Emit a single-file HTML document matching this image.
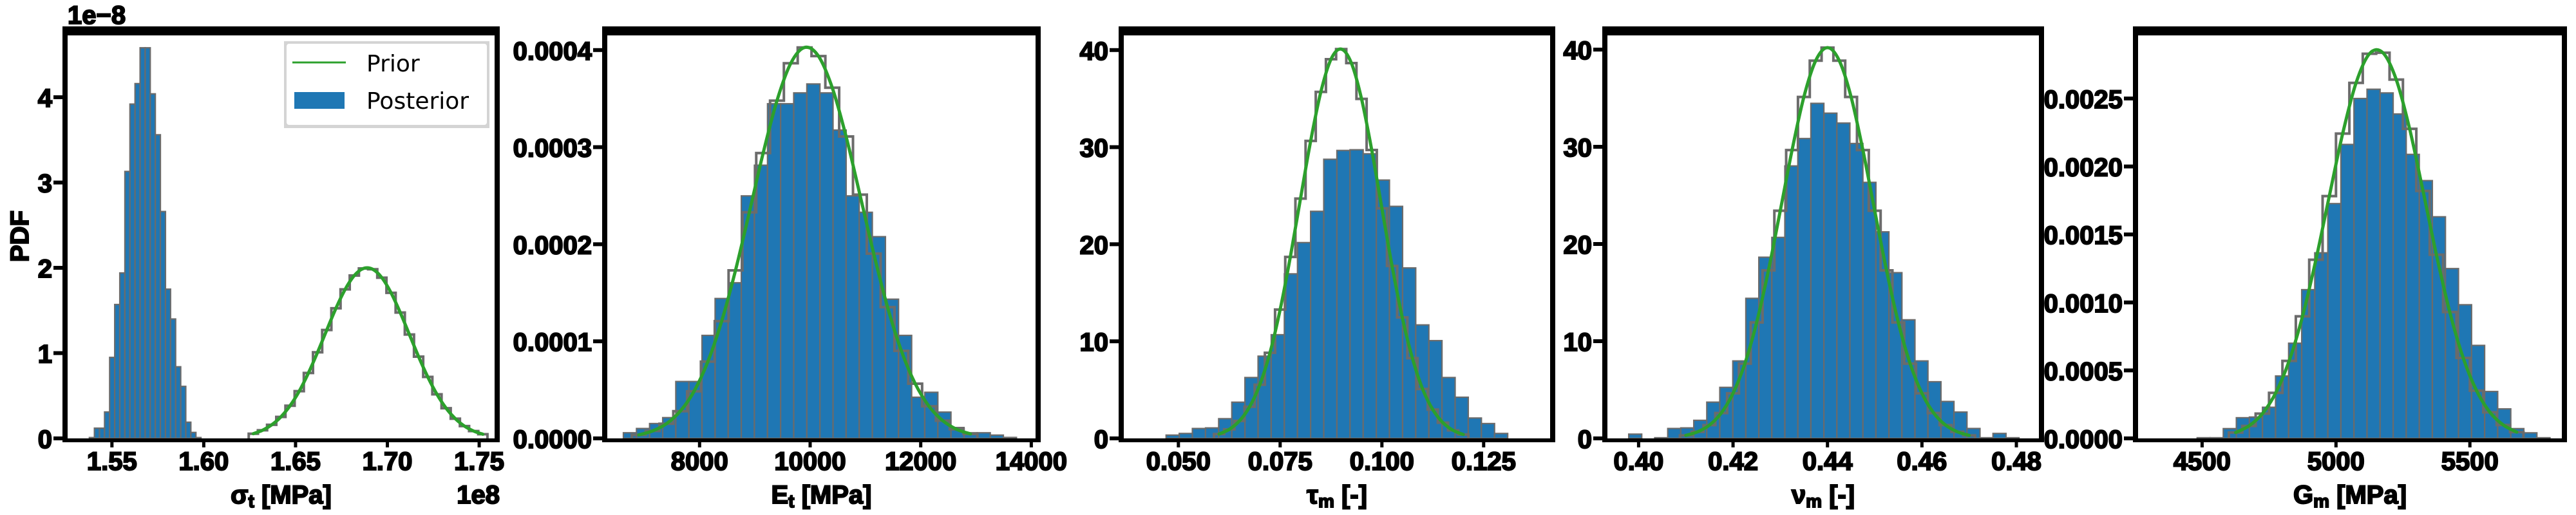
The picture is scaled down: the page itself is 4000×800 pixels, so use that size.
<!DOCTYPE html>
<html><head><meta charset="utf-8"><style>
html,body{margin:0;padding:0;background:#fff;}
svg{display:block;}
text{font-family:"Liberation Sans",sans-serif;}
</style></head><body>
<svg id="fig" width="4000" height="800" viewBox="0 0 4000 800" xmlns="http://www.w3.org/2000/svg"></svg>
<script>
// ---------- Panel 1 data (sigma, scaled 1e8 / 1e-8) ----------
const p1PostStart = 1.5377;
const p1PostWidth = 0.002764;
const p1PostHeights = [0.01,0.12,0.12,0.31,0.95,1.57,1.94,3.13,3.92,4.16,4.58,4.58,4.04,3.56,2.66,1.75,1.40,0.84,0.61,0.19,0.07,0.01];
const p1PriorX = [1.627,1.632,1.637,1.642,1.647,1.652,1.657,1.662,1.667,1.672,1.677,1.682,1.687,1.692,1.697,1.702,1.707,1.712,1.717,1.722,1.727,1.732,1.737,1.742,1.747,1.752];
const p1PriorY = [0.055,0.095,0.159,0.252,0.383,0.554,0.767,1.010,1.271,1.526,1.747,1.910,1.993,1.983,1.884,1.707,1.476,1.218,0.959,0.721,0.517,0.354,0.231,0.144,0.086,0.049];
const p1XTicks = [1.55,1.60,1.65,1.70,1.75];
const p1XTickLabels = ["1.55","1.60","1.65","1.70","1.75"];
const p1YTicks = [0,1,2,3,4];
const p1YTickLabels = ["0","1","2","3","4"];

// ---------- Panel 2 data (y in 1e-4) ----------
const p2PostStart = 6622;
const p2PostWidth = 237;
const p2PostHeights = [0.058,0.102,0.153,0.214,0.586,0.586,1.061,1.441,1.603,2.498,2.814,3.447,3.447,3.559,3.651,3.559,3.176,2.498,2.329,2.078,1.434,1.061,0.424,0.475,0.271,0.112,0.058,0.058,0.034,0.01];
const p2PriorX = [6900,7150,7400,7650,7900,8150,8400,8650,8900,9150,9400,9650,9900,10150,10400,10650,10900,11150,11400,11650,11900,12150,12400,12650,12900];
const p2PriorY = [0.036,0.077,0.151,0.280,0.485,0.791,1.208,1.731,2.329,2.939,3.479,3.864,4.027,3.938,3.612,3.110,2.511,1.903,1.352,0.902,0.564,0.331,0.182,0.094,0.046];
const p2XTicks = [8000,10000,12000,14000];
const p2XTickLabels = ["8000","10000","12000","14000"];
const p2YTicks = [0,1,2,3,4];
const p2YTickLabels = ["0.0000","0.0001","0.0002","0.0003","0.0004"];

// ---------- Panel 3 data ----------
const p3PostStart = 0.04698;
const p3PostWidth = 0.003228;
const p3PostHeights = [0.34,0.51,1.02,1.08,2.03,3.73,6.27,8.47,10.68,16.95,20.17,23.39,28.75,29.66,29.73,29.32,26.61,23.90,17.56,11.69,10.07,6.27,4.24,2.10,1.53,0.51];
const p3PriorX = [0.060,0.0625,0.065,0.0675,0.070,0.0725,0.075,0.0775,0.080,0.0825,0.085,0.0875,0.090,0.0925,0.095,0.0975,0.100,0.1025,0.105,0.1075,0.110,0.1125,0.115,0.1175,0.120];
const p3PriorY = [0.45,0.93,1.80,3.26,5.53,8.82,13.27,18.69,24.70,30.64,35.69,39.06,40.10,38.66,34.97,29.71,23.70,17.76,12.47,8.26,5.09,2.97,1.62,0.83,0.40];
const p3XTicks = [0.050,0.075,0.100,0.125];
const p3XTickLabels = ["0.050","0.075","0.100","0.125"];
const p3YTicks = [0,10,20,30,40];
const p3YTickLabels = ["0","10","20","30","40"];

// ---------- Panel 4 data ----------
const p4PostStart = 0.39791;
const p4PostWidth = 0.002755;
const p4PostHeights = [0.44,0,0.07,1.02,1.08,1.86,3.73,5.25,7.97,14.41,18.64,20.68,28.03,30.85,34.47,33.46,32.44,30.34,26.34,21.25,17.05,12.20,7.97,5.83,3.80,2.71,1.02,0.07,0.51,0.07];
const p4PriorX = [0.410,0.4125,0.415,0.4175,0.420,0.4225,0.425,0.4275,0.430,0.4325,0.435,0.4375,0.440,0.4425,0.445,0.4475,0.450,0.4525,0.455,0.4575,0.460,0.4625,0.465,0.4675,0.470];
const p4PriorY = [0.31,0.68,1.37,2.61,4.64,7.69,11.93,17.29,23.42,29.66,35.13,38.86,40.2,38.86,35.13,29.66,23.42,17.29,11.93,7.69,4.64,2.61,1.37,0.68,0.31];
const p4XTicks = [0.40,0.42,0.44,0.46,0.48];
const p4XTickLabels = ["0.40","0.42","0.44","0.46","0.48"];
const p4YTicks = [0,10,20,30,40];
const p4YTickLabels = ["0","10","20","30","40"];

// ---------- Panel 5 data (y in 1e-4) ----------
const p5PostStart = 4481.5;
const p5PostWidth = 48.8;
const p5PostHeights = [0.05,0.05,0.72,1.52,1.57,2.29,4.59,7.00,10.94,13.65,17.27,21.62,25.0,25.68,25.41,23.86,20.89,18.96,16.30,12.49,9.83,6.84,3.45,2.17,0.72,0.41,0.05];
const p5PriorX = [4625,4675,4725,4775,4825,4875,4925,4975,5025,5075,5125,5175,5225,5275,5325,5375,5425,5475,5525,5575,5625,5675];
const p5PriorY = [0.43,0.92,1.82,3.35,5.70,8.98,13.14,17.82,22.42,26.15,28.29,28.37,26.39,22.77,18.20,13.51,9.29,5.92,3.51,1.92,0.98,0.46];
const p5XTicks = [4500,5000,5500];
const p5XTickLabels = ["4500","5000","5500"];
const p5YTicks = [0,5,10,15,20,25];
const p5YTickLabels = ["0.0000","0.0005","0.0010","0.0015","0.0020","0.0025"];

const NS = "http://www.w3.org/2000/svg";
const fig = document.getElementById("fig");
const BASE = 681, TOP = 55;

const panels = [
  {id:"p1", outerL:97, outerR:776, xMin:1.52587, xMax:1.75839, yMax:4.725, priorStep:0.005,
   post:[p1PostStart,p1PostWidth,p1PostHeights], prior:[p1PriorX,p1PriorY],
   xt:[p1XTicks,p1XTickLabels], yt:[p1YTicks,p1YTickLabels], label:["σ","t"," [MPa]"]},
  {id:"p2", outerL:935, outerR:1616, xMin:6331, xMax:14077, yMax:4.151, priorStep:250,
   post:[p2PostStart,p2PostWidth,p2PostHeights], prior:[p2PriorX,p2PriorY],
   xt:[p2XTicks,p2XTickLabels], yt:[p2YTicks,p2YTickLabels], label:["E","t"," [MPa]"]},
  {id:"p3", outerL:1737, outerR:2415, xMin:0.03658, xMax:0.14133, yMax:41.51, priorStep:0.0025,
   post:[p3PostStart,p3PostWidth,p3PostHeights], prior:[p3PriorX,p3PriorY],
   xt:[p3XTicks,p3XTickLabels], yt:[p3YTicks,p3YTickLabels], label:["τ","m"," [-]"]},
  {id:"p4", outerL:2488, outerR:3174, xMin:0.39340, xMax:0.48477, yMax:41.46, priorStep:0.0025,
   post:[p4PostStart,p4PostWidth,p4PostHeights], prior:[p4PriorX,p4PriorY],
   xt:[p4XTicks,p4XTickLabels], yt:[p4YTicks,p4YTickLabels], label:["ν","m"," [-]"]},
  {id:"p5", outerL:3312, outerR:3986, xMin:4260.9, xMax:5843.4, yMax:29.64, priorStep:50,
   post:[p5PostStart,p5PostWidth,p5PostHeights], prior:[p5PriorX,p5PriorY],
   xt:[p5XTicks,p5XTickLabels], yt:[p5YTicks,p5YTickLabels], label:["G","m"," [MPa]"]}
];

function mk(tag, attrs, parent){
  const e = document.createElementNS(NS, tag);
  for (const k in attrs) e.setAttribute(k, attrs[k]);
  (parent||fig).appendChild(e);
  return e;
}

panels.forEach(function(p, pi){
  const g = mk("g", {});
  
  
  const L = p.outerL + 8, R = p.outerR - 8;
  const xs = v => L + (v - p.xMin) / (p.xMax - p.xMin) * (R - L);
  const ys = v => BASE - v / p.yMax * (BASE - TOP);

  // posterior bars
  const start = p.post[0], w = p.post[1], hs = p.post[2];
  hs.forEach(function(h, i){
    const x0 = xs(start + i*w), x1 = xs(start + (i+1)*w);
    const r = mk("rect", {x:x0, y:ys(h), width:x1-x0, height:BASE-ys(h), fill:"#1f77b4", stroke:"#6b6b6b", "stroke-width":2.2}, g);
    
    
  });

  // prior step outline
  const px = p.prior[0], py = p.prior[1], hs2 = p.priorStep/2;
  let d = "M" + xs(px[0]-hs2) + " " + BASE;
  px.forEach(function(x, i){
    d += " L" + xs(x-hs2) + " " + ys(py[i]) + " L" + xs(x+hs2) + " " + ys(py[i]);
  });
  d += " L" + xs(px[px.length-1]+hs2) + " " + BASE;
  const st = mk("path", {d:d, fill:"none", stroke:"#6b6b6b", "stroke-width":4}, g);
  
  

  // prior smooth curve (catmull-rom through data points)
  const pts = px.map((x,i)=>[xs(x), ys(py[i])]);
  let c = "M" + pts[0][0] + " " + pts[0][1];
  for (let i=0;i<pts.length-1;i++){
    const p0 = pts[Math.max(0,i-1)], p1 = pts[i], p2 = pts[i+1], p3 = pts[Math.min(pts.length-1,i+2)];
    const c1x = p1[0] + (p2[0]-p0[0])/6, c1y = p1[1] + (p2[1]-p0[1])/6;
    const c2x = p2[0] - (p3[0]-p1[0])/6, c2y = p2[1] - (p3[1]-p1[1])/6;
    c += " C" + c1x + " " + c1y + " " + c2x + " " + c2y + " " + p2[0] + " " + p2[1];
  }
  const cv = mk("path", {d:c, fill:"none", stroke:"#2ca02c", "stroke-width":5, "stroke-linecap":"round"}, g);
  
  

  // frame
  const fr = mk("g", {fill:"#000"}, g);
  
  
  mk("rect", {x:p.outerL, y:41, width:p.outerR-p.outerL, height:14}, fr);
  mk("rect", {x:p.outerL, y:41, width:8, height:646}, fr);
  mk("rect", {x:p.outerR-8, y:41, width:8, height:646}, fr);
  mk("rect", {x:p.outerL, y:681, width:p.outerR-p.outerL, height:6}, fr);

  // x ticks
  p.xt[0].forEach(function(v, i){
    const x = xs(v);
    const t = mk("rect", {x:x-2.5, y:684, width:5, height:11, fill:"#000"}, g);
    
    
    const tl = mk("text", {x:x, y:730, "text-anchor":"middle", "font-size":40, "font-weight":"bold", fill:"#000", stroke:"#000", "stroke-width":2}, g);
    tl.textContent = p.xt[1][i];
    
    
  });
  // y ticks
  p.yt[0].forEach(function(v, i){
    const y = ys(v);
    const t = mk("rect", {x:p.outerL-14, y:y-3, width:14, height:6, fill:"#000"}, g);
    
    
    const tl = mk("text", {x:p.outerL-16, y:y+15, "text-anchor":"end", "font-size":40, "font-weight":"bold", fill:"#000", stroke:"#000", "stroke-width":2}, g);
    tl.textContent = p.yt[1][i];
    
    
  });
  // x axis title
  const xl = mk("text", {x:(p.outerL+p.outerR)/2, y:782, "text-anchor":"middle", "font-size":40, "font-weight":"bold", fill:"#000", stroke:"#000", "stroke-width":2}, g);
  
  
  const t1 = mk("tspan", {}, xl); t1.textContent = p.label[0];
  const t2 = mk("tspan", {"font-size":28, dy:6}, xl); t2.textContent = p.label[1];
  const t3 = mk("tspan", {dy:-6}, xl); t3.textContent = p.label[2];
});

// panel 1 extras
const off1 = mk("text", {x:105, y:37, "font-size":40, "font-weight":"bold", fill:"#000", stroke:"#000", "stroke-width":2});
off1.textContent = "1e−8";


const off2 = mk("text", {x:776, y:782, "text-anchor":"end", "font-size":40, "font-weight":"bold", fill:"#000", stroke:"#000", "stroke-width":2});
off2.textContent = "1e8";


const ylab = mk("text", {x:0, y:0, transform:"translate(44,367) rotate(-90)", "text-anchor":"middle", "font-size":40, "font-weight":"bold", fill:"#000", stroke:"#000", "stroke-width":2});
ylab.textContent = "PDF";



// legend
const lg = mk("g", {});


mk("rect", {x:441, y:64, width:319, height:135, fill:"#d4d4d4"}, lg);
mk("rect", {x:445, y:68, width:311, height:126, rx:4, fill:"#fff"}, lg);
const le1 = mk("line", {x1:454, y1:97, x2:537, y2:97, stroke:"#2ca02c", "stroke-width":3}, lg);


const lt1 = mk("text", {x:569, y:111, "font-size":36, fill:"#000", style:"font-family:'DejaVu Sans',sans-serif"}, lg);
lt1.textContent = "Prior";


const le2 = mk("rect", {x:457, y:143, width:78, height:26, fill:"#1f77b4"}, lg);


const lt2 = mk("text", {x:569, y:169, "font-size":36, fill:"#000", style:"font-family:'DejaVu Sans',sans-serif"}, lg);
lt2.textContent = "Posterior";


</script>
</body></html>
